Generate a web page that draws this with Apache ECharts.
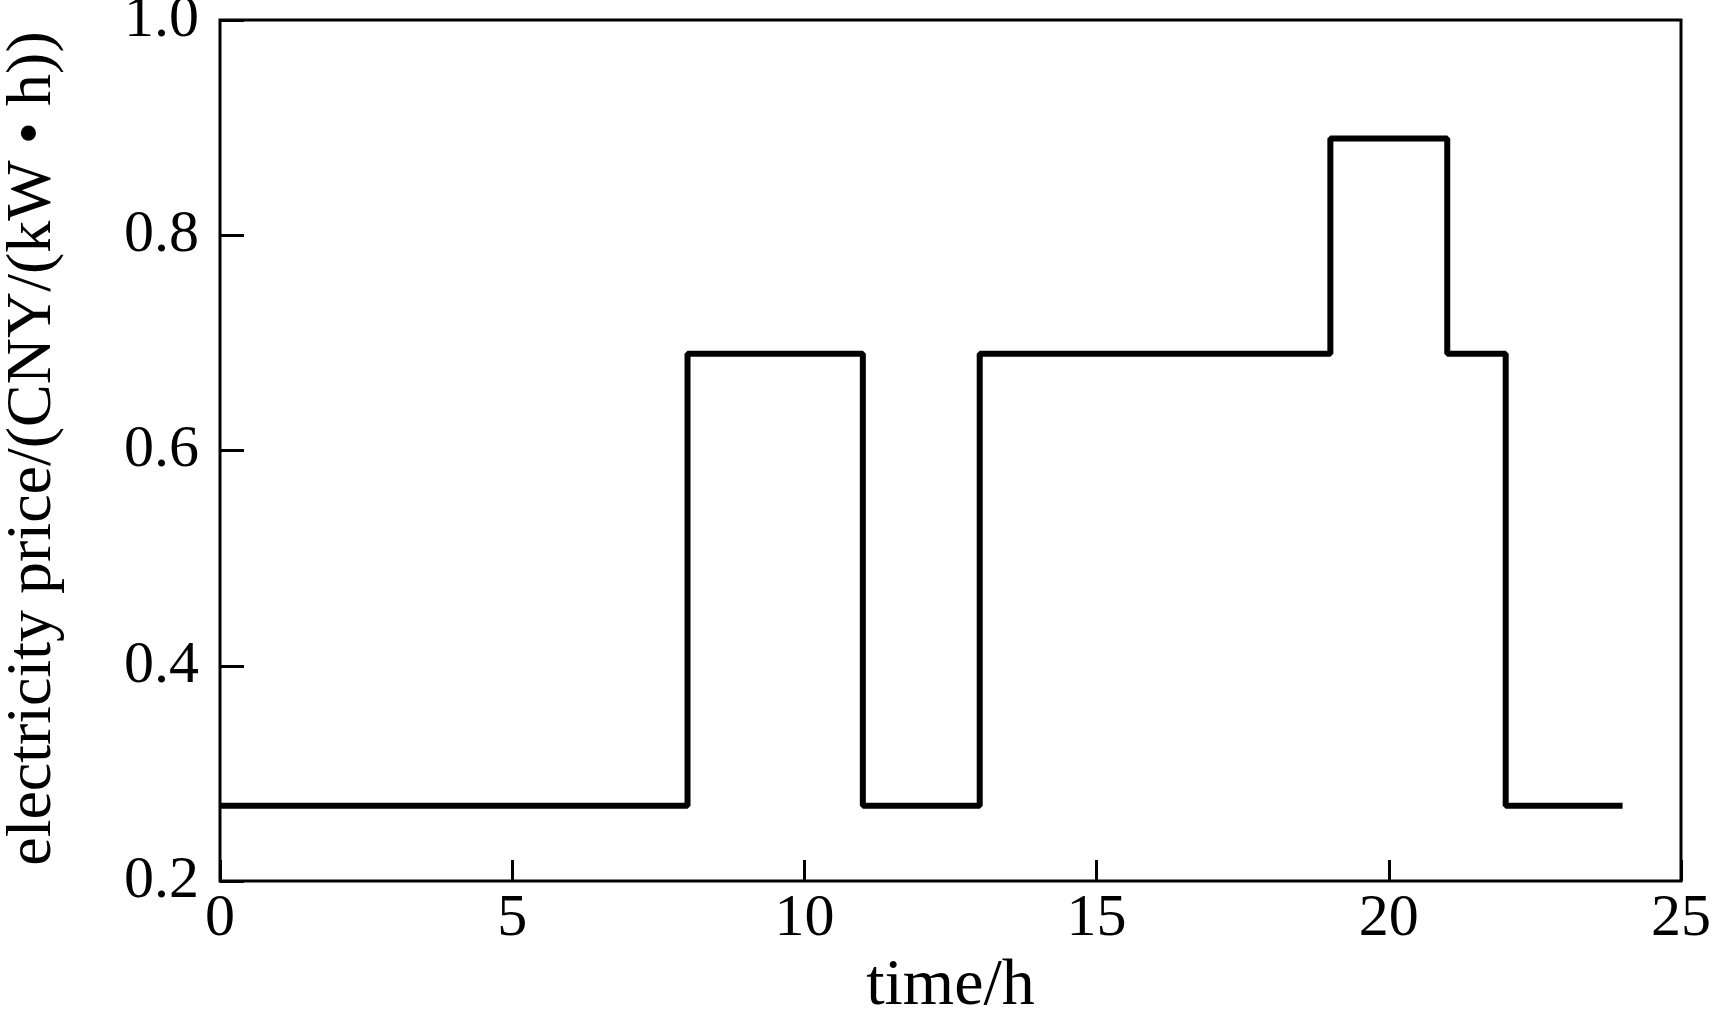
<!DOCTYPE html>
<html>
<head>
<meta charset="utf-8">
<script src="https://cdn.jsdelivr.net/npm/echarts@6/dist/echarts.min.js"></script>
<style>
html,body{margin:0;padding:0;background:#fff;}
#chart{width:1713px;height:1012px;}
</style>
</head>
<body>
<div id="chart"></div>
<script>
// Breakpoint times (h) and price level starting at each time (CNY/(kW·h))
const times = [0, 8, 11, 13, 19, 21, 22, 24];
const prices = [0.27, 0.69, 0.27, 0.69, 0.89, 0.69, 0.27, 0.27];
const xTicks = [0, 5, 10, 15, 20, 25];
const yTicks = [0.2, 0.4, 0.6, 0.8, 1.0];

const data = times.map((t, i) => [t, prices[i]]);
const font = 'Liberation Serif';

const chart = echarts.init(document.getElementById('chart'));
chart.setOption({
  animation: false,
  backgroundColor: '#fff',
  grid: {
    left: 220, right: 32, top: 20, bottom: 131,
    outerBoundsMode: 'none',
    containLabel: false,
    show: true, borderColor: '#000', borderWidth: 3, backgroundColor: 'transparent'
  },
  xAxis: {
    type: 'value',
    min: xTicks[0], max: xTicks[xTicks.length - 1], interval: 5,
    name: 'time/h',
    nameLocation: 'middle',
    nameGap: 69,
    nameTextStyle: { fontFamily: font, fontSize: 66, color: '#000' },
    axisLine: { show: false },
    axisTick: { show: true, inside: true, length: 21, lineStyle: { color: '#000', width: 3 } },
    splitLine: { show: false },
    axisLabel: { fontFamily: font, fontSize: 60, color: '#000', margin: 8 }
  },
  yAxis: {
    type: 'value',
    min: yTicks[0], max: yTicks[yTicks.length - 1], interval: 0.2,
    name: 'electricity price/(CNY/(kW \u2022 h))',
    nameLocation: 'middle',
    nameGap: 155,
    nameTextStyle: { fontFamily: font, fontSize: 64, color: '#000', padding: [0, 0, 0, 4] },
    axisLine: { show: false },
    axisTick: { show: true, inside: true, length: 24, lineStyle: { color: '#000', width: 3 } },
    splitLine: { show: false },
    axisLabel: {
      fontFamily: font, fontSize: 60, color: '#000', margin: 21,
      formatter: v => v.toFixed(1)
    }
  },
  series: [{
    type: 'line',
    step: 'end',
    data: data,
    symbol: 'none',
    lineStyle: { color: '#000', width: 6 }
  }]
});
</script>
</body>
</html>
